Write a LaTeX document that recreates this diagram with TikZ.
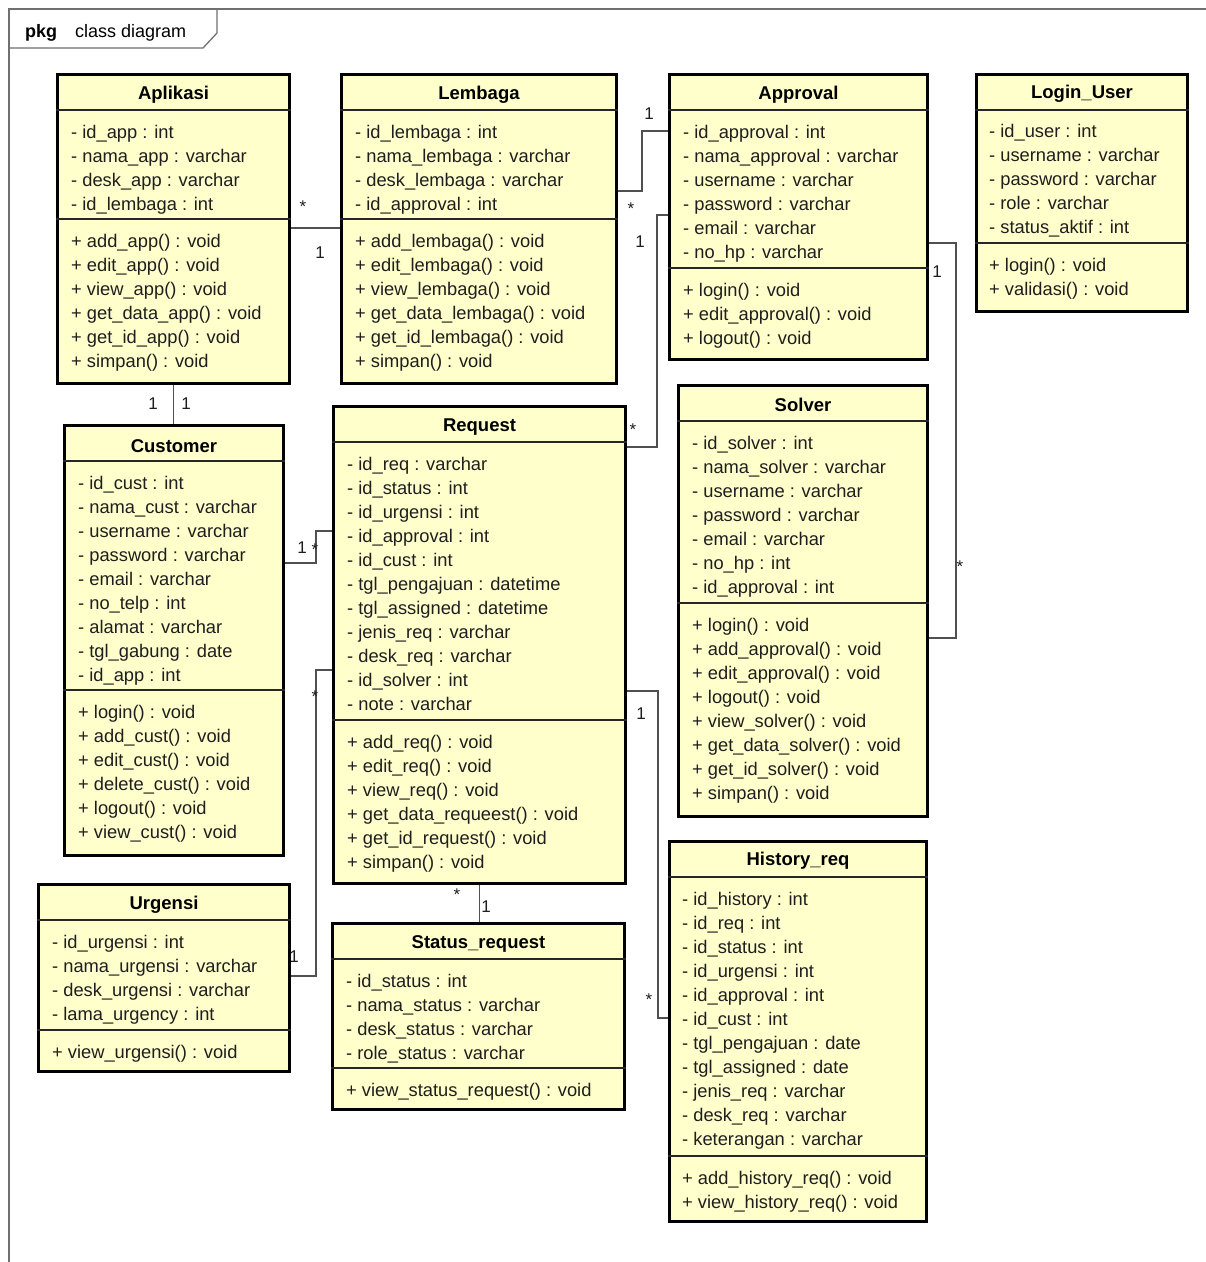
\documentclass[tikz,border=0pt]{standalone}
\usepackage{fontspec}
\setmainfont{Liberation Sans}
\usepackage{xcolor}
\definecolor{classfill}{HTML}{FFFFCC}
\definecolor{linkgray}{HTML}{505050}
\definecolor{framegray}{HTML}{707070}
\definecolor{textdark}{HTML}{1E1E1E}

\begin{document}
\begin{tikzpicture}[x=1pt, y=-1pt,
    cls/.style 2 args={draw=black, line width=3pt, fill=classfill,
                       anchor=north west, inner sep=0pt,
                       minimum width=#1, minimum height=#2},
    sep/.style={line width=1.6pt, black!85},
    ttl/.style={font=\bfseries\fontsize{18.5}{22}\selectfont, inner sep=0pt},
    mem/.style={anchor=north west, align=left, inner sep=0pt,
                font=\fontsize{18.3}{24}\selectfont, text=textdark},
    lnk/.style={line width=1.3pt, linkgray},
    mult/.style={font=\fontsize{17}{20}\selectfont, text=textdark, inner sep=0pt},
    frm/.style={line width=1.3pt, framegray}
  ]
    \clip (0,0) rectangle (1206,1262);
    \fill[white] (0,0) rectangle (1206,1262);

    % === Frame ===
    \draw[frm] (9,1280) -- (9,9) -- (1220,9);
    \draw[frm] (9,48) -- (203,48) -- (217,33) -- (217,9);
    \node[font=\bfseries\fontsize{18}{20}\selectfont, anchor=base west, inner sep=0pt]
      (pkg) at (25,37) {pkg};
    \node[font=\fontsize{18}{20}\selectfont, anchor=base west, inner sep=0pt]
      (pkgname) at (75,37) {class diagram};

    % === Aplikasi ===
    \node[cls={232}{309}] (apl) at (56,73) {};
    \node[ttl] (apl-t) at ([yshift=-22]apl.north) {Aplikasi};
    \draw[sep] ([yshift=-37]apl.north west) -- ([yshift=-37]apl.north east);
    \draw[sep] ([yshift=-146]apl.north west) -- ([yshift=-146]apl.north east);
    \node[mem] (apl-at) at ([xshift=15, yshift=-52]apl.north west)
      {- id\_app : int\\- nama\_app : varchar\\- desk\_app : varchar\\- id\_lembaga : int};
    \node[mem] (apl-op) at ([xshift=15, yshift=-161]apl.north west)
      {+ add\_app() : void\\+ edit\_app() : void\\+ view\_app() : void\\
       + get\_data\_app() : void\\+ get\_id\_app() : void\\+ simpan() : void};

    % === Lembaga ===
    \node[cls={275}{309}] (lem) at (340,73) {};
    \node[ttl] (lem-t) at ([yshift=-22]lem.north) {Lembaga};
    \draw[sep] ([yshift=-37]lem.north west) -- ([yshift=-37]lem.north east);
    \draw[sep] ([yshift=-146]lem.north west) -- ([yshift=-146]lem.north east);
    \node[mem] (lem-at) at ([xshift=15, yshift=-52]lem.north west)
      {- id\_lembaga : int\\- nama\_lembaga : varchar\\- desk\_lembaga : varchar\\- id\_approval : int};
    \node[mem] (lem-op) at ([xshift=15, yshift=-161]lem.north west)
      {+ add\_lembaga() : void\\+ edit\_lembaga() : void\\+ view\_lembaga() : void\\
       + get\_data\_lembaga() : void\\+ get\_id\_lembaga() : void\\+ simpan() : void};

    % === Approval ===
    \node[cls={258}{285}] (apr) at (668,73) {};
    \node[ttl] (apr-t) at ([yshift=-22]apr.north) {Approval};
    \draw[sep] ([yshift=-37]apr.north west) -- ([yshift=-37]apr.north east);
    \draw[sep] ([yshift=-195]apr.north west) -- ([yshift=-195]apr.north east);
    \node[mem] (apr-at) at ([xshift=15, yshift=-52]apr.north west)
      {- id\_approval : int\\- nama\_approval : varchar\\- username : varchar\\
       - password : varchar\\- email : varchar\\- no\_hp : varchar};
    \node[mem] (apr-op) at ([xshift=15, yshift=-210]apr.north west)
      {+ login() : void\\+ edit\_approval() : void\\+ logout() : void};

    % === Login_User ===
    \node[cls={211}{237}] (usr) at (975,73) {};
    \node[ttl] (usr-t) at ([yshift=-21]usr.north) {Login\_User};
    \draw[sep] ([yshift=-37]usr.north west) -- ([yshift=-37]usr.north east);
    \draw[sep] ([yshift=-170]usr.north west) -- ([yshift=-170]usr.north east);
    \node[mem] (usr-at) at ([xshift=14, yshift=-51]usr.north west)
      {- id\_user : int\\- username : varchar\\- password : varchar\\
       - role : varchar\\- status\_aktif : int};
    \node[mem] (usr-op) at ([xshift=14, yshift=-185]usr.north west)
      {+ login() : void\\+ validasi() : void};

    % === Solver ===
    \node[cls={249}{431}] (slv) at (677,384) {};
    \node[ttl] (slv-t) at ([yshift=-21]slv.north) {Solver};
    \draw[sep] ([yshift=-37]slv.north west) -- ([yshift=-37]slv.north east);
    \draw[sep] ([yshift=-219]slv.north west) -- ([yshift=-219]slv.north east);
    \node[mem] (slv-at) at ([xshift=15, yshift=-52]slv.north west)
      {- id\_solver : int\\- nama\_solver : varchar\\- username : varchar\\
       - password : varchar\\- email : varchar\\- no\_hp : int\\- id\_approval : int};
    \node[mem] (slv-op) at ([xshift=15, yshift=-234]slv.north west)
      {+ login() : void\\+ add\_approval() : void\\+ edit\_approval() : void\\
       + logout() : void\\+ view\_solver() : void\\+ get\_data\_solver() : void\\
       + get\_id\_solver() : void\\+ simpan() : void};

    % === Customer ===
    \node[cls={219}{430}] (cus) at (63,424) {};
    \node[ttl] (cus-t) at ([yshift=-22]cus.north) {Customer};
    \draw[sep] ([yshift=-37]cus.north west) -- ([yshift=-37]cus.north east);
    \draw[sep] ([yshift=-266]cus.north west) -- ([yshift=-266]cus.north east);
    \node[mem] (cus-at) at ([xshift=15, yshift=-52]cus.north west)
      {- id\_cust : int\\- nama\_cust : varchar\\- username : varchar\\
       - password : varchar\\- email : varchar\\- no\_telp : int\\
       - alamat : varchar\\- tgl\_gabung : date\\- id\_app : int};
    \node[mem] (cus-op) at ([xshift=15, yshift=-281]cus.north west)
      {+ login() : void\\+ add\_cust() : void\\+ edit\_cust() : void\\
       + delete\_cust() : void\\+ logout() : void\\+ view\_cust() : void};

    % === Request ===
    \node[cls={292}{477}] (req) at (332,405) {};
    \node[ttl] (req-t) at ([yshift=-22]req.north) {Request};
    \draw[sep] ([yshift=-37]req.north west) -- ([yshift=-37]req.north east);
    \draw[sep] ([yshift=-315]req.north west) -- ([yshift=-315]req.north east);
    \node[mem] (req-at) at ([xshift=15, yshift=-52]req.north west)
      {- id\_req : varchar\\- id\_status : int\\- id\_urgensi : int\\
       - id\_approval : int\\- id\_cust : int\\- tgl\_pengajuan : datetime\\
       - tgl\_assigned : datetime\\- jenis\_req : varchar\\- desk\_req : varchar\\
       - id\_solver : int\\- note : varchar};
    \node[mem] (req-op) at ([xshift=15, yshift=-330]req.north west)
      {+ add\_req() : void\\+ edit\_req() : void\\+ view\_req() : void\\
       + get\_data\_requeest() : void\\+ get\_id\_request() : void\\+ simpan() : void};

    % === Urgensi ===
    \node[cls={251}{187}] (urg) at (37,883) {};
    \node[ttl] (urg-t) at ([yshift=-22]urg.north) {Urgensi};
    \draw[sep] ([yshift=-37]urg.north west) -- ([yshift=-37]urg.north east);
    \draw[sep] ([yshift=-147]urg.north west) -- ([yshift=-147]urg.north east);
    \node[mem] (urg-at) at ([xshift=15, yshift=-52]urg.north west)
      {- id\_urgensi : int\\- nama\_urgensi : varchar\\- desk\_urgensi : varchar\\- lama\_urgency : int};
    \node[mem] (urg-op) at ([xshift=15, yshift=-162]urg.north west)
      {+ view\_urgensi() : void};

    % === Status_request ===
    \node[cls={292}{186}] (sts) at (331,922) {};
    \node[ttl] (sts-t) at ([yshift=-22]sts.north) {Status\_request};
    \draw[sep] ([yshift=-37]sts.north west) -- ([yshift=-37]sts.north east);
    \draw[sep] ([yshift=-146]sts.north west) -- ([yshift=-146]sts.north east);
    \node[mem] (sts-at) at ([xshift=15, yshift=-52]sts.north west)
      {- id\_status : int\\- nama\_status : varchar\\- desk\_status : varchar\\- role\_status : varchar};
    \node[mem] (sts-op) at ([xshift=15, yshift=-161]sts.north west)
      {+ view\_status\_request() : void};

    % === History_req ===
    \node[cls={257}{380}] (his) at (668,840) {};
    \node[ttl] (his-t) at ([yshift=-21]his.north) {History\_req};
    \draw[sep] ([yshift=-37]his.north west) -- ([yshift=-37]his.north east);
    \draw[sep] ([yshift=-316]his.north west) -- ([yshift=-316]his.north east);
    \node[mem] (his-at) at ([xshift=14, yshift=-52]his.north west)
      {- id\_history : int\\- id\_req : int\\- id\_status : int\\- id\_urgensi : int\\
       - id\_approval : int\\- id\_cust : int\\- tgl\_pengajuan : date\\
       - tgl\_assigned : date\\- jenis\_req : varchar\\- desk\_req : varchar\\
       - keterangan : varchar};
    \node[mem] (his-op) at ([xshift=14, yshift=-331]his.north west)
      {+ add\_history\_req() : void\\+ view\_history\_req() : void};

    % === Associations ===
    \draw[lnk] ([yshift=-155]apl.north east) -- ([yshift=-155]lem.north west);
    \draw[lnk] ([yshift=-118]lem.north east) -- ++(24,0) |- ([yshift=-58]apr.north west);
    \draw[lnk] ([yshift=-42]req.north east) -- ++(30,0) |- ([yshift=-142]apr.north west);
    \draw[lnk] ([yshift=-170]apr.north east) -- ++(27,0) |- ([yshift=-254]slv.north east);
    \draw[lnk] (apl.south) -- (apl.south |- cus.north);
    \draw[lnk] ([yshift=-139]cus.north east) -- ++(31,0) |- ([yshift=-126]req.north west);
    \draw[lnk] ([yshift=-93]urg.north east) -- ++(25,0) |- ([yshift=-265]req.north west);
    \draw[lnk] (req.south) -- (req.south |- sts.north);
    \draw[lnk] ([yshift=-286]req.north east) -- ++(31,0) |- ([yshift=-178]his.north west);

    % multiplicities
    \node[mult] (m-apl1) at (303,207) {*};
    \node[mult] (m-lem1) at (320,253) {1};
    \node[mult] (m-apr1) at (649,114) {1};
    \node[mult] (m-lem2) at (631,209) {*};
    \node[mult] (m-apr2) at (640,242) {1};
    \node[mult] (m-req1) at (633,430) {*};
    \node[mult] (m-apr3) at (937,272) {1};
    \node[mult] (m-slv1) at (960,567) {*};
    \node[mult] (m-apl2) at (153,404) {1};
    \node[mult] (m-cus1) at (186,404) {1};
    \node[mult] (m-cus2) at (302,548) {1};
    \node[mult] (m-req2) at (315,550) {*};
    \node[mult] (m-urg1) at (294,957) {1};
    \node[mult] (m-req3) at (315,697) {*};
    \node[mult] (m-req4) at (457,895) {*};
    \node[mult] (m-sts1) at (486,907) {1};
    \node[mult] (m-req5) at (641,714) {1};
    \node[mult] (m-his1) at (649,1000) {*};
  \end{tikzpicture}
\end{document}
